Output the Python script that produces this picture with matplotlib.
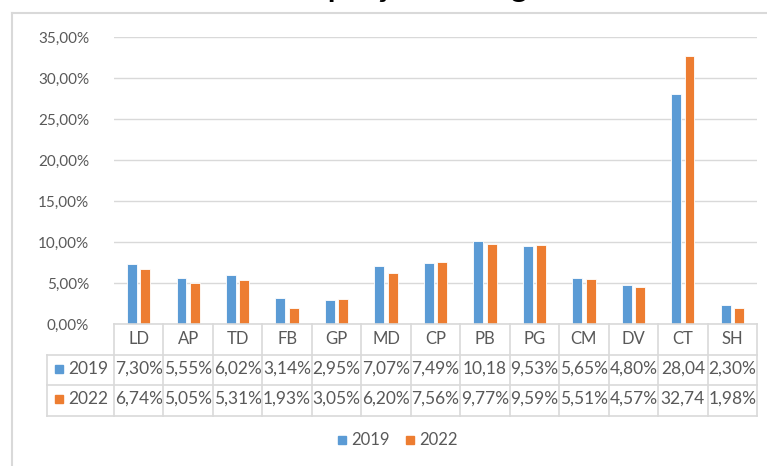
# Grafico de barras com tabela de dados (estilo Excel)
import matplotlib
matplotlib.use("Agg")
import matplotlib.pyplot as plt
from matplotlib.lines import Line2D
from matplotlib.patches import Rectangle
from matplotlib.transforms import blended_transform_factory
import numpy as np

# dados
categorias = ["LD", "AP", "TD", "FB", "GP", "MD", "CP", "PB", "PG", "CM", "DV", "CT", "SH"]
v2019 = [7.30, 5.55, 6.02, 3.14, 2.95, 7.07, 7.49, 10.18, 9.53, 5.65, 4.80, 28.04, 2.30]
v2022 = [6.74, 5.05, 5.31, 1.93, 3.05, 6.20, 7.56, 9.77, 9.59, 5.51, 4.57, 32.74, 1.98]
txt2019 = ["7,30%", "5,55%", "6,02%", "3,14%", "2,95%", "7,07%", "7,49%", "10,18",
           "9,53%", "5,65%", "4,80%", "28,04", "2,30%"]
txt2022 = ["6,74%", "5,05%", "5,31%", "1,93%", "3,05%", "6,20%", "7,56%", "9,77%",
           "9,59%", "5,51%", "4,57%", "32,74", "1,98%"]
yticks = [0, 5, 10, 15, 20, 25, 30, 35]
titulo = "Gráfico 1 - Proporção dos Ingressantes"

azul = "#5B9BD5"
laranja = "#ED7D31"
cinza = "#D9D9D9"
texto = "#595959"

W, H = 767, 466
plt.rcParams['font.family'] = ['Lato', 'DejaVu Sans']

fig = plt.figure(figsize=(W / 100, H / 100), dpi=100)

# pixel -> fracao da figura
def fx(px):
    return px / W

def fy(py):
    return 1 - py / H

# area do grafico
x0, x1, ytop, ybot = 114, 757, 37, 324
ax = fig.add_axes([fx(x0), fy(ybot), fx(x1) - fx(x0), fy(ytop) - fy(ybot)])

x = np.arange(len(categorias))
ax.bar(x - 0.135, v2019, width=0.2, color=azul, edgecolor="white", linewidth=0.6, zorder=3)
ax.bar(x + 0.135, v2022, width=0.2, color=laranja, edgecolor="white", linewidth=0.6, zorder=3)

ax.set_xlim(-0.5, len(categorias) - 0.5)
ax.set_ylim(0, 35)
ax.set_yticks(yticks)
ax.set_yticklabels([f"{t:.2f}%".replace(".", ",") for t in yticks], color=texto, fontsize=11)
ax.tick_params(axis="y", length=0, pad=18)
ax.set_xticks([])
for s in ax.spines.values():
    s.set_visible(False)
ax.grid(axis="y", color=cinza, linewidth=1, zorder=0)

# tabela de dados
tr = blended_transform_factory(ax.transData, fig.transFigure)
linhas = [324, 355, 385, 416]
tleft = 47
for i, py in enumerate(linhas):
    xa = x0 if i == 0 else tleft
    fig.add_artist(Line2D([fx(xa), fx(x1)], [fy(py), fy(py)], color=cinza, linewidth=1.2))
fig.add_artist(Line2D([fx(tleft), fx(tleft)], [fy(355), fy(416)], color=cinza, linewidth=1.2))
for k in range(len(categorias) + 1):
    xv = fx(x0 + k * (x1 - x0) / len(categorias))
    fig.add_artist(Line2D([xv, xv], [fy(324), fy(416)], color=cinza, linewidth=1.2))

for i, c in enumerate(categorias):
    ax.text(i, fy(339), c, transform=tr, ha="center", va="center", color=texto, fontsize=12)
    ax.text(i, fy(369), txt2019[i], transform=tr, ha="center", va="center", color=texto, fontsize=12.5)
    ax.text(i, fy(399), txt2022[i], transform=tr, ha="center", va="center", color=texto, fontsize=12.5)

for py, cor, rot in [(369, azul, "2019"), (399, laranja, "2022")]:
    fig.add_artist(Rectangle((fx(55), fy(py + 4)), fx(8), 8 / H, color=cor))
    fig.text(fx(68), fy(py), rot, ha="left", va="center", color=texto, fontsize=12.5)

# legenda
for px, cor, rot in [(338, azul, "2019"), (406, laranja, "2022")]:
    fig.add_artist(Rectangle((fx(px), fy(444)), fx(8), 8 / H, color=cor))
    fig.text(fx(px + 13), fy(440), rot, ha="left", va="center", color=texto, fontsize=12)

# borda da area do grafico
fig.add_artist(Line2D([fx(12), fx(12)], [fy(13), 0], color=cinza, linewidth=1.5))
fig.add_artist(Line2D([fx(12), 1], [fy(13), fy(13)], color=cinza, linewidth=1.5))

# titulo (cortado no topo)
fig.text(fx(392), fy(-3), titulo, ha="center", va="baseline", fontsize=22,
         fontweight="bold", color="black")

fig.savefig("out.png", dpi=100)
